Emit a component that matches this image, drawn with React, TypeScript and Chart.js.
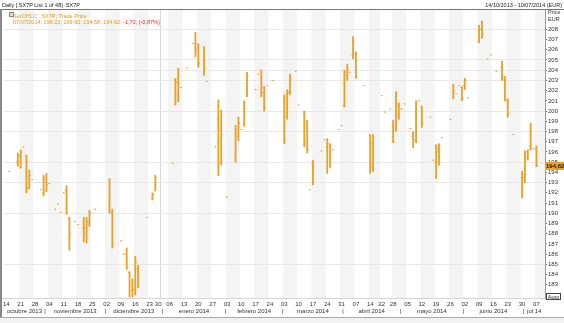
import { useEffect, useRef } from "react";
import { Chart, registerables } from "chart.js";

Chart.register(...registerables);

// trading-day index (0 = 14/10/2013) of each bar
const dayIndex = [1, 4, 5, 6, 7, 8, 9, 12, 13, 14, 15, 17, 18, 19, 20, 21, 22, 24, 25, 27, 28, 29, 31, 36, 37, 40, 41, 42, 43, 44, 45, 46, 49, 51, 52, 58, 59, 60, 61, 63, 65, 66, 67, 69, 70, 73, 74, 75, 77, 80, 81, 82, 83, 84, 87, 88, 89, 90, 91, 93, 97, 98, 99, 101, 102, 104, 105, 106, 107, 110, 111, 112, 113, 114, 116, 117, 118, 119, 120, 121, 122, 125, 127, 128, 131, 132, 134, 135, 136, 137, 138, 139, 141, 142, 143, 144, 145, 148, 149, 150, 151, 152, 155, 156, 157, 158, 159, 160, 161, 165, 166, 168, 169, 171, 173, 174, 175, 177, 180, 181, 182, 183, 184, 185];
const openValues = [194.1, 195.0, 195.6, 196.5, 195.6, 192.4, 193.3, 192.3, 192.0, 193.5, 192.9, 190.4, 190.9, 190.1, 192.0, 192.3, 189.5, 189.2, 188.9, 188.6, 188.0, 189.0, 190.4, 191.0, 190.0, 187.3, 186.0, 186.0, 184.2, 183.0, 182.5, 184.6, 189.6, 191.5, 192.2, 194.9, 200.7, 201.6, 202.3, 204.2, 206.6, 206.6, 206.6, 205.0, 202.9, 196.5, 199.2, 196.0, 191.6, 195.5, 197.5, 198.2, 198.7, 201.5, 202.1, 203.6, 204.0, 202.3, 202.5, 203.0, 201.0, 199.5, 201.9, 203.9, 200.6, 199.8, 198.8, 192.3, 194.8, 196.1, 197.2, 196.5, 196.5, 196.2, 198.2, 198.6, 200.5, 203.5, 203.8, 205.5, 205.6, 202.5, 197.6, 194.3, 201.5, 199.9, 200.2, 197.5, 198.5, 200.5, 200.2, 200.7, 198.3, 197.5, 197.2, 201.0, 200.4, 199.4, 195.2, 195.0, 196.0, 197.4, 199.2, 201.8, 201.7, 202.5, 202.3, 202.5, 201.3, 206.8, 208.0, 205.1, 205.5, 203.9, 204.3, 203.2, 201.0, 197.7, 193.5, 193.5, 196.0, 196.6, 196.3, 196.22];
const highValues = [194.1, 195.9, 196.2, 196.5, 195.7, 194.2, 193.3, 192.3, 193.7, 193.9, 192.9, 190.4, 190.9, 190.1, 192.0, 192.7, 189.6, 189.2, 188.9, 189.6, 189.6, 190.3, 190.4, 193.4, 190.4, 187.3, 186.0, 186.6, 184.3, 183.6, 185.8, 184.9, 189.6, 192.0, 193.7, 194.9, 203.2, 204.2, 202.3, 204.2, 206.6, 207.7, 206.6, 206.3, 202.9, 196.5, 201.1, 200.1, 191.6, 198.6, 199.4, 198.2, 201.0, 203.8, 202.1, 203.6, 204.0, 202.4, 202.5, 203.0, 201.6, 202.1, 203.6, 203.9, 200.6, 200.0, 199.1, 192.3, 195.2, 196.1, 197.2, 197.3, 196.8, 196.2, 198.2, 198.6, 204.0, 204.6, 203.8, 207.3, 205.8, 202.5, 197.7, 197.7, 201.5, 199.9, 200.2, 199.1, 201.9, 200.8, 200.2, 200.7, 198.3, 198.0, 201.0, 201.0, 200.5, 199.4, 195.2, 196.7, 196.8, 197.4, 199.2, 202.6, 201.7, 202.5, 202.4, 203.2, 201.3, 208.4, 208.8, 205.1, 205.5, 203.9, 204.9, 203.4, 201.2, 197.7, 194.1, 196.1, 196.2, 198.8, 196.3, 196.60];
const lowValues = [194.1, 194.6, 194.4, 196.5, 192.0, 192.4, 193.3, 192.3, 191.7, 192.1, 192.9, 190.4, 190.9, 190.1, 192.0, 189.9, 186.4, 189.2, 188.9, 187.2, 187.1, 188.7, 190.4, 190.0, 186.6, 187.3, 186.0, 184.5, 181.8, 181.8, 182.0, 182.7, 189.6, 191.3, 192.2, 194.9, 200.6, 200.9, 202.3, 204.2, 206.6, 205.3, 204.3, 203.5, 202.9, 196.5, 193.7, 194.7, 191.6, 195.0, 197.1, 198.2, 198.5, 201.4, 202.1, 203.6, 201.4, 200.0, 202.5, 203.0, 196.8, 199.2, 201.6, 203.9, 200.6, 196.5, 195.9, 192.3, 192.8, 196.1, 197.2, 193.9, 194.5, 196.2, 198.2, 198.6, 200.4, 203.0, 203.8, 205.1, 203.2, 202.5, 193.9, 194.1, 201.5, 199.9, 200.2, 196.9, 198.0, 199.2, 200.2, 200.7, 198.3, 196.4, 196.9, 201.0, 198.4, 199.4, 195.2, 193.4, 194.7, 197.4, 199.2, 201.2, 201.7, 202.5, 201.0, 202.1, 201.3, 206.7, 207.1, 205.1, 205.5, 203.9, 203.0, 201.0, 199.4, 197.7, 191.5, 193.0, 195.2, 196.2, 196.3, 194.58];
const closeValues = [194.1, 195.7, 196.0, 196.5, 192.5, 193.7, 193.3, 192.3, 193.3, 192.8, 192.9, 190.4, 190.9, 190.1, 192.0, 190.1, 188.0, 189.2, 188.9, 188.6, 189.2, 190.0, 190.4, 190.2, 187.0, 187.3, 186.0, 184.8, 182.4, 182.6, 185.2, 183.6, 189.6, 191.8, 193.5, 194.9, 202.8, 202.7, 202.3, 204.2, 206.6, 206.0, 204.7, 204.2, 202.9, 196.5, 196.8, 197.7, 191.6, 198.2, 198.8, 198.2, 200.8, 203.5, 202.1, 203.6, 201.8, 200.3, 202.5, 203.0, 197.2, 201.8, 203.3, 203.9, 200.6, 196.9, 196.2, 192.3, 194.6, 196.1, 197.2, 196.8, 196.0, 196.2, 198.2, 198.6, 203.8, 204.0, 203.8, 206.8, 203.4, 202.5, 194.5, 197.5, 201.5, 199.9, 200.2, 197.0, 201.6, 200.2, 200.2, 200.7, 198.3, 197.2, 200.8, 201.0, 198.8, 199.4, 195.2, 196.3, 196.5, 197.4, 199.2, 202.0, 201.7, 202.5, 201.2, 203.0, 201.3, 208.0, 207.5, 205.1, 205.5, 203.9, 203.4, 201.3, 199.8, 197.7, 193.8, 195.5, 196.2, 196.4, 196.3, 194.62];

// weekly axis (trading-day index of each Monday label)
const weekStarts = [0, 5, 10, 15, 20, 25, 30, 35, 40, 45, 50, 53, 57, 62, 67, 72, 77, 82, 87, 92, 97, 102, 107, 112, 117, 122, 127, 131, 135, 140, 145, 150, 155, 160, 165, 170, 175, 180, 185];
const weekLabels = ["14", "21", "28", "04", "11", "18", "25", "02", "09", "16", "23", "30", "06", "13", "20", "27", "03", "10", "17", "24", "03", "10", "17", "24", "31", "07", "14", "22", "28", "05", "12", "19", "26", "02", "09", "16", "23", "30", "07"];
const shadedWeeks = [1, 3, 5, 7, 9, 12, 14, 16, 18, 20, 22, 24, 26, 28, 30, 32, 34, 36, 38];

// months
const monthStarts = [0, 14, 35, 55, 77, 97, 118, 138, 160, 181];
const monthLabels = ["octubre 2013", "noviembre 2013", "diciembre 2013", "enero 2014", "febrero 2014", "marzo 2014", "abril 2014", "mayo 2014", "junio 2014", "jul 14"];

// price axis
const yTickValues = [182, 183, 184, 185, 186, 187, 188, 189, 190, 191, 192, 193, 194, 195, 196, 197, 198, 199, 200, 201, 202, 203, 204, 205, 206, 207, 208];
const yGridValues = [185, 190, 193, 195, 198, 200, 203, 204, 205, 208];
const lastClose = 194.62;
const lastCloseLabel = "194,62";

const X_MIN = -0.84;
const X_MAX = 188.0;
const Y_MIN = 181.71;
const Y_MAX = 209.89;
const YEAR_BREAK = 53.5;

const BAR = "#e8a22a";
const FONT = '"Liberation Sans", Arial, sans-serif';

const monthTickValues: number[] = [];
const monthTickTexts: string[] = [];
monthStarts.forEach((s, k) => {
  const left = k === 0 ? X_MIN : s - 0.5;
  const right = k === monthStarts.length - 1 ? X_MAX : monthStarts[k + 1] - 0.5;
  if (k > 0) {
    monthTickValues.push(s - 0.5);
    monthTickTexts.push("|");
  }
  monthTickValues.push((left + right) / 2);
  monthTickTexts.push(monthLabels[k]);
});

const bandsPlugin = {
  id: "bands",
  beforeDraw(chart: any) {
    const { ctx, chartArea: a, scales } = chart;
    const xs = scales.x;
    ctx.save();
    ctx.beginPath();
    ctx.rect(a.left, a.top, a.right - a.left, a.bottom - a.top);
    ctx.clip();
    ctx.fillStyle = "#f4f4f4";
    shadedWeeks.forEach((w) => {
      const s = weekStarts[w] - 0.5;
      const e = (w + 1 < weekStarts.length ? weekStarts[w + 1] : X_MAX + 1) - 0.5;
      const x0 = xs.getPixelForValue(s);
      const x1 = xs.getPixelForValue(e);
      ctx.fillRect(x0, a.top, x1 - x0, a.bottom - a.top);
    });
    const yb = Math.round(xs.getPixelForValue(YEAR_BREAK)) + 0.5;
    ctx.strokeStyle = "#d9d9d9";
    ctx.lineWidth = 1;
    ctx.beginPath();
    ctx.moveTo(yb, a.top);
    ctx.lineTo(yb, a.bottom);
    ctx.stroke();
    ctx.restore();
  },
};

const ohlcTicksPlugin = {
  id: "ohlcTicks",
  afterDatasetsDraw(chart: any) {
    const { ctx, scales } = chart;
    const ys = scales.y;
    const meta = chart.getDatasetMeta(0);
    ctx.save();
    ctx.fillStyle = BAR;
    meta.data.forEach((el: any, k: number) => {
      const x = el.x;
      const yo = ys.getPixelForValue(openValues[k]);
      const yc = ys.getPixelForValue(closeValues[k]);
      if (highValues[k] === lowValues[k]) {
        ctx.fillRect(x - 0.6, yo - 0.5, 1.2, 1);
        return;
      }
      ctx.fillRect(x - 1.6, yo - 0.5, 1, 1);
      ctx.fillRect(x + 0.6, yc - 0.5, 1, 1);
    });
    ctx.restore();
  },
};

const badgePlugin = {
  id: "badge",
  afterDraw(chart: any) {
    const { ctx, chartArea: a, scales } = chart;
    const y = scales.y.getPixelForValue(lastClose);
    ctx.save();
    ctx.fillStyle = "#f0a224";
    ctx.fillRect(a.right, Math.round(y) - 4, 19, 8);
    ctx.fillStyle = "#1a1a1a";
    ctx.font = "bold 6px " + FONT;
    ctx.textBaseline = "middle";
    ctx.textAlign = "left";
    ctx.fillText(lastCloseLabel, a.right + 1, Math.round(y) + 0.5);
    ctx.restore();
  },
};

export default function App() {
  const ref = useRef<HTMLCanvasElement>(null);

  useEffect(() => {
    document.body.style.margin = "0";
    const canvas = ref.current;
    if (!canvas) return;
    const chart = new Chart(canvas, {
      type: "bar",
      data: {
        datasets: [
          {
            data: dayIndex.map((d, k) => ({ x: d, y: [lowValues[k], highValues[k]] })) as any,
            backgroundColor: BAR,
            borderWidth: 0,
            barThickness: 1.2,
            grouped: false,
            minBarLength: 0,
          } as any,
        ],
      },
      options: {
        animation: false,
        responsive: false,
        devicePixelRatio: 1,
        events: [],
        layout: { padding: { left: 3, top: 10, right: 0, bottom: 6 }, autoPadding: false },
        plugins: { legend: { display: false }, tooltip: { enabled: false }, title: { display: false } },
        scales: {
          x: {
            type: "linear",
            position: "bottom",
            min: X_MIN,
            max: X_MAX,
            offset: false,
            weight: 0,
            grid: { display: false, drawTicks: false, offset: false },
            border: { display: true, color: "#d6d6d6" },
            afterBuildTicks: (scale: any) => {
              scale.ticks = weekStarts.map((v) => ({ value: v }));
            },
            afterFit: (scale: any) => {
              scale.height = 9;
            },
            ticks: {
              autoSkip: false,
              maxRotation: 0,
              minRotation: 0,
              padding: 3,
              color: "#333",
              font: { family: FONT, size: 6 },
              callback: (_v: any, i: number) => weekLabels[i],
            },
          },
          xm: {
            type: "linear",
            position: "bottom",
            min: X_MIN,
            max: X_MAX,
            offset: false,
            weight: 1,
            grid: { display: false, drawTicks: false },
            border: { display: false },
            afterBuildTicks: (scale: any) => {
              scale.ticks = monthTickValues.map((v) => ({ value: v }));
            },
            afterFit: (scale: any) => {
              scale.height = 10;
            },
            ticks: {
              autoSkip: false,
              maxRotation: 0,
              minRotation: 0,
              padding: 1,
              color: "#333",
              font: { family: FONT, size: 6 },
              callback: (_v: any, i: number) => monthTickTexts[i],
            },
          },
          y: {
            type: "linear",
            position: "right",
            min: Y_MIN,
            max: Y_MAX,
            beginAtZero: false,
            afterBuildTicks: (scale: any) => {
              scale.ticks = yTickValues.map((v) => ({ value: v }));
            },
            afterFit: (scale: any) => {
              scale.width = 19;
            },
            grid: {
              display: true,
              drawOnChartArea: true,
              drawTicks: true,
              tickLength: 2,
              tickColor: "#777",
              color: (c: any) => (c.tick && yGridValues.includes(c.tick.value) ? "#e8e8e8" : "rgba(0,0,0,0)"),
            },
            border: { display: true, color: "#9a9a9a" },
            ticks: {
              padding: 1,
              color: "#333",
              font: { family: FONT, size: 6 },
              callback: (v: any) => String(v),
            },
          },
        },
      } as any,
      plugins: [bandsPlugin, ohlcTicksPlugin, badgePlugin],
    });
    return () => chart.destroy();
  }, []);

  const small = { position: "absolute" as const, fontFamily: FONT, fontSize: "5.5px", lineHeight: "6px", whiteSpace: "nowrap" as const };

  return (
    <div style={{ position: "relative", width: 564, height: 323, overflow: "hidden", background: "#fff" }}>
      <canvas ref={ref} width={564} height={323} style={{ position: "absolute", left: 0, top: 0, width: 564, height: 323 }} />
      <div style={{ ...small, left: 2, top: 1.5, color: "#222" }}>Daily [.SX7P List 1 of 48] .SX7P</div>
      <div style={{ ...small, right: 2, top: 1.5, color: "#222" }}>14/10/2013 - 10/07/2014 (EUR)</div>
      <div style={{ position: "absolute", left: 0, top: 9, width: 564, height: 1, background: "#777" }} />
      <div style={{ position: "absolute", left: 0, top: 9, width: 1.5, height: 309, background: "#888" }} />
      <div style={{ position: "absolute", left: 0, top: 317, width: 564, height: 6, background: "#f2f2f2", borderTop: "1px solid #aaa" }} />
      <div style={{ position: "absolute", left: 9, top: 12, width: 3, height: 3, border: "0.5px solid #888", background: "#ddd" }} />
      <div style={{ ...small, left: 13, top: 12.5, color: "#e39a1c" }}>SerOHLC; .SX7P; Trade Price</div>
      <div style={{ ...small, left: 13, top: 18.5, color: "#e39a1c" }}>
        07/07/2014; 196,22; 196,60; 194,58; 194,62; <span style={{ color: "#e0302a" }}>-1,70; (-0,87%)</span>
      </div>
      <div style={{ ...small, left: 548, top: 9, color: "#333" }}>Price</div>
      <div style={{ ...small, left: 548, top: 15.5, color: "#333" }}>EUR</div>
      <div
        style={{
          ...small,
          left: 546,
          top: 293,
          width: 15,
          height: 7,
          lineHeight: "7px",
          border: "1px solid #444",
          background: "#fff",
          color: "#222",
          textAlign: "center",
          boxSizing: "border-box",
        }}
      >
        Auto
      </div>
    </div>
  );
}
